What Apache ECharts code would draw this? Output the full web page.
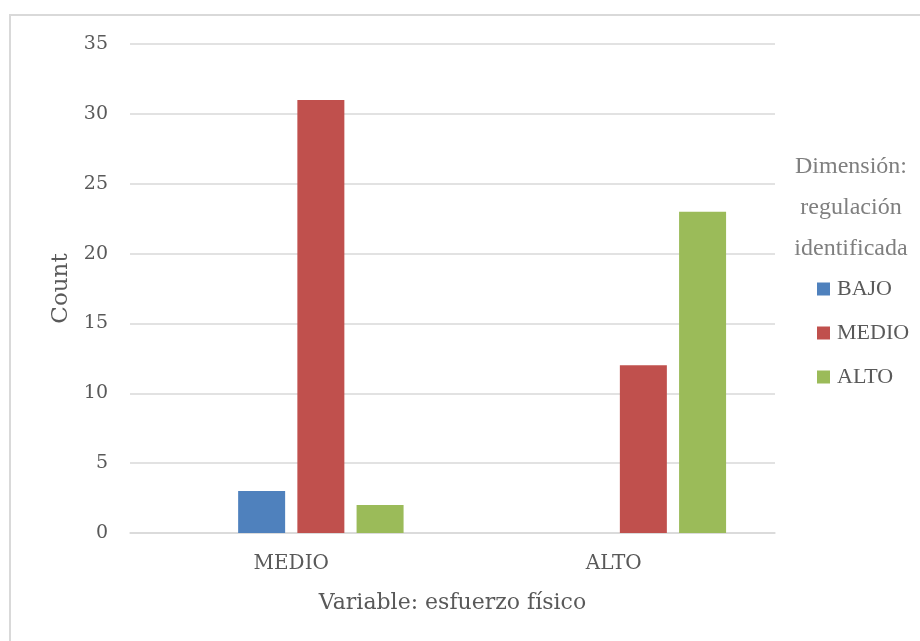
<!DOCTYPE html>
<html>
<head>
<meta charset="utf-8">
<script src="https://cdn.jsdelivr.net/npm/echarts@6/dist/echarts.min.js"></script>
<style>
  html, body { margin: 0; padding: 0; background: #fff; }
  #chart { width: 920px; height: 641px; }
</style>
</head>
<body>
<div id="chart"></div>
<script>
var categories = ["MEDIO", "ALTO"];
var seriesNames = ["BAJO", "MEDIO", "ALTO"];
var bajoData = [3, 0];
var medioData = [31, 12];
var altoData = [2, 23];
var colors = ["#4f81bd", "#c0504d", "#9bbb59"];

var axisFont = "DejaVu Serif";
var legendFont = "Liberation Serif";
var myChart = echarts.init(document.getElementById("chart"));

function bar(name, data, color) {
  return {
    name: name,
    type: "bar",
    data: data,
    barWidth: 47,
    barGap: "26%",
    itemStyle: { color: color },
    animation: false
  };
}

myChart.setOption({
  textStyle: { fontFamily: axisFont },
  graphic: [{
    type: "rect",
    shape: { x: 10, y: 15, width: 930, height: 650 },
    style: { fill: "none", stroke: "#d9d9d9", lineWidth: 2 }
  }],
  title: {
    text: "Dimensión:\nregulación\nidentificada",
    left: 846,
    top: 141,
    textAlign: "center",
    textStyle: { fontFamily: legendFont, fontSize: 24, fontWeight: "normal", color: "#7f7f7f", lineHeight: 41 }
  },
  legend: {
    data: seriesNames,
    orient: "vertical",
    left: 812,
    top: 272,
    itemWidth: 13,
    itemHeight: 13,
    itemGap: 20,
    icon: "rect",
    textStyle: { fontFamily: legendFont, fontSize: 22, color: "#595959", lineHeight: 24, padding: [0, 0, 0, 2] }
  },
  grid: { left: 130, right: 145, top: 44, bottom: 108, containLabel: false },
  xAxis: {
    type: "category",
    data: categories,
    name: "Variable: esfuerzo físico",
    nameLocation: "middle",
    nameGap: 59,
    nameTextStyle: { fontFamily: axisFont, fontSize: 22, color: "#595959" },
    axisLine: { lineStyle: { color: "#d9d9d9", width: 1.5 } },
    axisTick: { show: false },
    axisLabel: { fontFamily: axisFont, fontSize: 20, color: "#595959", margin: 21 }
  },
  yAxis: {
    type: "value",
    min: 0,
    max: 35,
    interval: 5,
    name: "Count",
    nameLocation: "middle",
    nameGap: 57,
    nameTextStyle: { fontFamily: axisFont, fontSize: 23, color: "#595959" },
    axisLine: { show: false },
    axisTick: { show: false },
    axisLabel: { fontFamily: axisFont, fontSize: 19, color: "#595959", margin: 22 },
    splitLine: { lineStyle: { color: "#d9d9d9", width: 1.5 } }
  },
  series: [
    // empty slot keeps the bar group shifted like the original
    bar("", [null, null], "transparent"),
    bar(seriesNames[0], bajoData, colors[0]),
    bar(seriesNames[1], medioData, colors[1]),
    bar(seriesNames[2], altoData, colors[2])
  ]
});
</script>
</body>
</html>
